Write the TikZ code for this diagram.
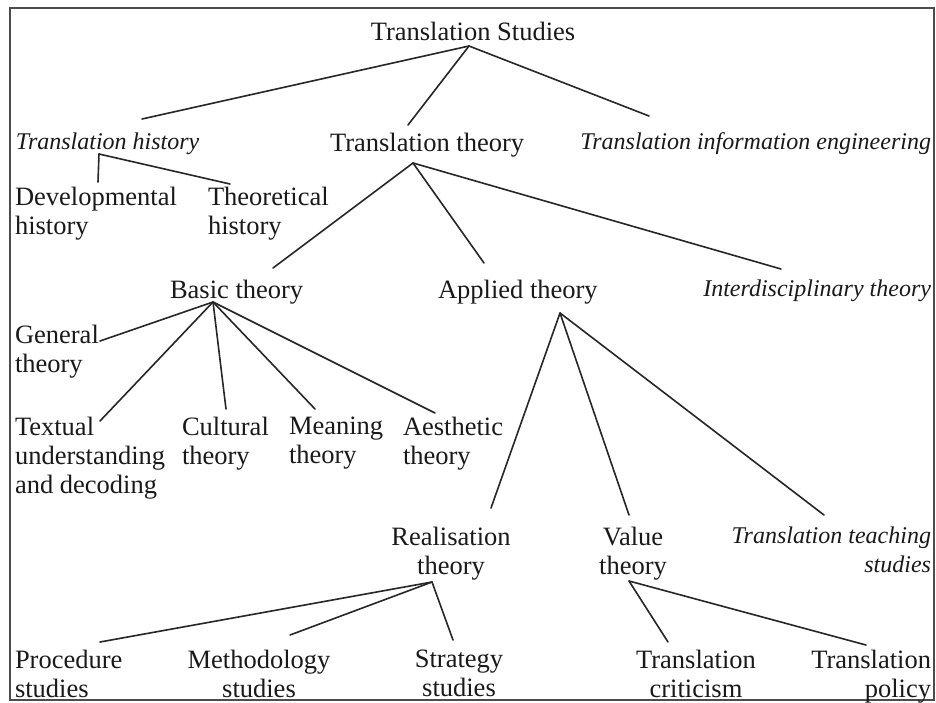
\documentclass[tikz,border=0pt]{standalone}
\usepackage{fontspec}
\setmainfont{Liberation Serif}
\newcommand\dfs{\fontsize{26.5}{29}\selectfont}
\newcommand\ifs{\fontsize{24}{29}\selectfont\itshape}
\begin{document}
\begin{tikzpicture}[x=1pt,y=-1pt,
  lbl/.style={inner sep=0pt, outer sep=0pt, font=\dfs, text=black!90, align=left},
  itl/.style={lbl, font=\ifs},
  edge/.style={draw=black!85, line width=1.6pt, line cap=round},
  frame/.style={draw=black!70, line width=1.4pt}]
\useasboundingbox (0,0) rectangle (936,702);
\draw[frame] (10,8) rectangle (934,700);

% nodes
\node[lbl, anchor=north] (ts) at (473,22) {Translation Studies};
\node[itl, anchor=north west] (th) at (16,133) {Translation history};
\node[lbl, anchor=north west] (tt) at (330,133) {Translation theory};
\node[itl, anchor=north east] (tie) at (931,133) {Translation information engineering};
\node[lbl, anchor=north west] (dh) at (15,187) {Developmental\\history};
\node[lbl, anchor=north west] (tho) at (208,187) {Theoretical\\history};
\node[lbl, anchor=north west] (bt) at (170,280) {Basic theory};
\node[lbl, anchor=north west] (at) at (438,280) {Applied theory};
\node[itl, anchor=north east] (it) at (931,280) {Interdisciplinary theory};
\node[lbl, anchor=north west] (gt) at (15,325) {General\\theory};
\node[lbl, anchor=north west] (tu) at (15,417) {Textual\\understanding\\and decoding};
\node[lbl, anchor=north west] (ct) at (182,417) {Cultural\\theory};
\node[lbl, anchor=north west] (mt) at (289,417) {Meaning\\theory};
\node[lbl, anchor=north west] (aet) at (403,417) {Aesthetic\\theory};
\node[lbl, anchor=north, align=center] (rt) at (451,527) {Realisation\\theory};
\node[lbl, anchor=north, align=center] (vt) at (633,527) {Value\\theory};
\node[itl, anchor=north east, align=right] (tts) at (931,527) {Translation teaching\\studies};
\node[lbl, anchor=north west] (ps) at (15,650) {Procedure\\studies};
\node[lbl, anchor=north, align=center] (ms) at (259,650) {Methodology\\studies};
\node[lbl, anchor=north, align=center] (ss) at (459,650) {Strategy\\studies};
\node[lbl, anchor=north, align=center] (tc) at (696,650) {Translation\\criticism};
\node[lbl, anchor=north east, align=right] (tp) at (931,650) {Translation\\policy};

% connector points
\coordinate (tsA) at (469,46);
\coordinate (thE) at (142,119);
\coordinate (ttE) at (408,125);
\coordinate (tieE) at (649,116);
\coordinate (thA) at (99,154);
\coordinate (dhE) at (98,182);
\coordinate (thoE) at (230,184);
\coordinate (ttA) at (413,163);
\coordinate (btE) at (273,268);
\coordinate (atE) at (484,263);
\coordinate (itE) at (781,269);
\coordinate (btA) at (213,302);
\coordinate (gtE) at (100,341);
\coordinate (tuE) at (100,421);
\coordinate (ctE) at (226,409);
\coordinate (mtE) at (315,409);
\coordinate (aetE) at (435,413);
\coordinate (atA) at (560,313);
\coordinate (rtE) at (491,508);
\coordinate (vtE) at (629,515);
\coordinate (ttsE) at (824,515);
\coordinate (rtA) at (432,582);
\coordinate (psE) at (100,642);
\coordinate (msE) at (290,635);
\coordinate (ssE) at (453,640);
\coordinate (vtA) at (629,581);
\coordinate (tcE) at (668,642);
\coordinate (tpE) at (866,645);

% connectors
\draw[edge] (tsA) -- (thE);
\draw[edge] (tsA) -- (ttE);
\draw[edge] (tsA) -- (tieE);
\draw[edge] (thA) -- (dhE);
\draw[edge] (thA) -- (thoE);
\draw[edge] (ttA) -- (btE);
\draw[edge] (ttA) -- (atE);
\draw[edge] (ttA) -- (itE);
\draw[edge] (btA) -- (gtE);
\draw[edge] (btA) -- (tuE);
\draw[edge] (btA) -- (ctE);
\draw[edge] (btA) -- (mtE);
\draw[edge] (btA) -- (aetE);
\draw[edge] (atA) -- (rtE);
\draw[edge] (atA) -- (vtE);
\draw[edge] (atA) -- (ttsE);
\draw[edge] (rtA) -- (psE);
\draw[edge] (rtA) -- (msE);
\draw[edge] (rtA) -- (ssE);
\draw[edge] (vtA) -- (tcE);
\draw[edge] (vtA) -- (tpE);
\end{tikzpicture}
\end{document}
